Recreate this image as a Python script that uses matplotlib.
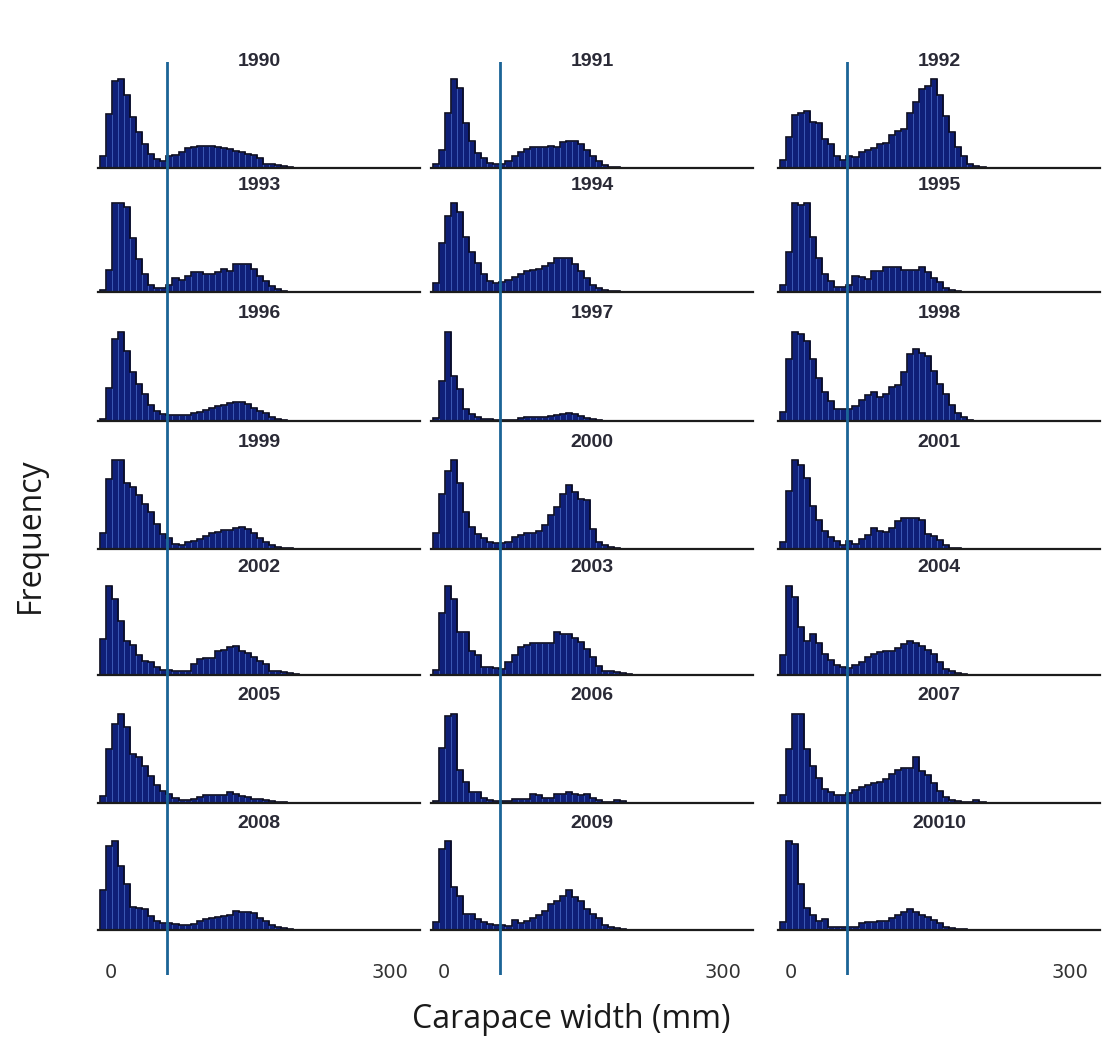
import numpy as np
import matplotlib
matplotlib.use("Agg")
import matplotlib.pyplot as plt

# carapace width histograms, heights (relative frequency)
years = ["1990", "1991", "1992", "1993", "1994", "1995", "1996",
         "1997", "1998", "1999", "2000", "2001", "2002", "2003",
         "2004", "2005", "2006", "2007", "2008", "2009", "20010"]

bin_start = -12     # mm, left edge of first bin
bin_width = 6.5     # mm
cut_off = 60        # mm, vertical reference line

f1990 = [13, 60, 97, 100, 82, 57, 40, 27, 16, 10, 8, 13, 15, 18, 22, 24, 25, 25, 25, 24,
         22, 21, 19, 18, 16, 15, 11, 5, 4, 3, 2, 1]
f1991 = [4, 20, 62, 100, 90, 50, 30, 17, 11, 6, 5, 5, 8, 13, 18, 21, 23, 23, 23, 25,
         24, 29, 30, 30, 27, 20, 13, 8, 3, 1.5, 1]
f1992 = [9, 35, 59, 62, 64, 52, 50, 33, 27, 14, 9, 13, 12, 18, 20, 22, 27, 28, 37, 41,
         44, 62, 74, 88, 92, 100, 82, 58, 40, 24, 13, 4, 2, 1.5]
f1993 = [2, 25, 100, 100, 95, 60, 37, 20, 8, 5, 5, 8, 16, 14, 18, 22, 22, 20, 20, 22,
         26, 24, 31, 31, 31, 26, 18, 12, 7, 3, 1, 0.5]
f1994 = [10, 55, 85, 100, 90, 62, 45, 33, 20, 12, 10, 11, 14, 17, 20, 23, 25, 26, 29, 33,
         38, 38, 38, 31, 23, 16, 8, 4, 2, 1.5, 1]
f1995 = [8, 45, 100, 97, 100, 62, 38, 20, 12, 6, 6, 8, 18, 17, 15, 23, 23, 28, 28, 28,
         25, 25, 25, 28, 22, 16, 11, 5, 2, 1]
f1996 = [2, 37, 92, 100, 78, 55, 42, 30, 18, 11, 8, 7, 7, 7, 7, 9, 10, 12, 15, 17,
         18, 20, 21, 21, 19, 15, 11, 9, 4, 2, 1]
f1997 = [3, 45, 100, 50, 36, 14, 8, 4, 2, 2, 1.5, 1.5, 1.5, 1.5, 3, 4, 4, 4, 4, 6,
         7, 8, 9, 8, 6, 3, 2, 1]
f1998 = [10, 70, 100, 98, 90, 70, 48, 32, 22, 14, 13, 14, 17, 24, 29, 32, 27, 30, 38, 40,
         55, 75, 81, 76, 73, 56, 41, 30, 18, 9, 4, 1.5]
f1999 = [18, 78, 100, 100, 74, 69, 61, 50, 41, 28, 17, 12, 6, 4, 8, 9, 11, 15, 18, 19,
         21, 21, 23, 25, 22, 18, 12, 8, 4, 2, 1, 1]
f2000 = [18, 62, 87, 100, 74, 42, 25, 17, 12, 8, 7, 7, 8, 13, 16, 18, 18, 20, 27, 38,
         47, 62, 72, 64, 56, 55, 22, 8, 4, 2, 1]
f2001 = [8, 65, 100, 94, 80, 48, 32, 20, 13, 9, 4, 9, 6, 11, 16, 23, 20, 19, 24, 31,
         35, 35, 35, 32, 17, 15, 10, 4, 1.5, 1]
f2002 = [40, 100, 85, 60, 38, 34, 22, 16, 15, 9, 6, 6, 5, 4, 5, 12, 18, 19, 19, 27,
         28, 31, 32, 27, 25, 20, 16, 12, 4, 4, 3, 2, 1]
f2003 = [6, 70, 100, 85, 48, 48, 27, 22, 9, 9, 8, 7, 15, 22, 31, 34, 36, 36, 36, 36,
         48, 46, 46, 41, 37, 29, 20, 10, 5, 4, 3, 2, 1]
f2004 = [22, 100, 87, 54, 38, 46, 36, 24, 17, 11, 9, 8, 11, 15, 20, 24, 26, 27, 27, 30,
         35, 38, 36, 33, 28, 24, 15, 7, 4, 2, 1]
f2005 = [8, 60, 88, 100, 85, 55, 52, 42, 30, 20, 14, 10, 6, 3, 3, 5, 7, 9, 9, 9,
         9, 12, 10, 8, 7, 5, 4, 3, 2, 1, 1]
f2006 = [2, 62, 97, 100, 37, 24, 12, 12, 6, 3, 2, 2, 2, 4, 4, 4, 10, 9, 6, 6,
         10, 10, 12, 10, 9, 10, 6, 3, 1, 1, 3, 2]
f2007 = [9, 60, 100, 100, 60, 42, 28, 16, 12, 9, 9, 11, 15, 18, 20, 22, 24, 27, 32, 37,
         39, 39, 51, 36, 31, 22, 14, 7, 3, 2, 1, 1, 3, 1]
f2008 = [45, 94, 100, 72, 52, 26, 25, 23, 16, 10, 8, 8, 7, 6, 6, 7, 10, 12, 14, 15,
         16, 17, 21, 20, 20, 19, 13, 10, 6, 3, 2, 1]
f2009 = [9, 91, 100, 48, 38, 18, 18, 12, 9, 7, 6, 6, 5, 11, 8, 10, 14, 17, 21, 29,
         33, 38, 45, 37, 32, 24, 18, 14, 6, 3, 2, 1]
f20010 = [9, 100, 96, 51, 25, 17, 10, 12, 3, 3, 3, 3, 3, 8, 9, 9, 10, 10, 13, 17,
          20, 23, 20, 17, 15, 11, 8, 3, 2, 1, 1]

freqs = [f1990, f1991, f1992, f1993, f1994, f1995, f1996, f1997, f1998, f1999,
         f2000, f2001, f2002, f2003, f2004, f2005, f2006, f2007, f2008, f2009, f20010]

W, H = 1102, 1042
fig = plt.figure(figsize=(W / 100, H / 100), dpi=100)

col_left = [98, 431, 778]
col_w = 322
row_base = [168, 292, 421, 549, 675, 803, 930]
ax_h = 100
xlim = (-14, 332)

bar_face = "#0f1f78"
bar_edge = "#3d5cb8"
line_col = "#1b6496"

for k, (yr, vals) in enumerate(zip(years, freqs)):
    r, c = divmod(k, 3)
    ax = fig.add_axes([col_left[c] / W, (H - row_base[r]) / H, col_w / W, ax_h / H])
    vals = np.array(vals, dtype=float)
    edges = bin_start + bin_width * np.arange(len(vals) + 1)
    ax.bar(edges[:-1], vals, width=bin_width, align="edge",
           color=bar_face, edgecolor=bar_edge, linewidth=0.6)
    ax.stairs(vals, edges, color="#0a0a1e", linewidth=1.2)
    ax.set_xlim(*xlim)
    ax.set_ylim(0, vals.max() * 1.12)
    for s in ["left", "top", "right"]:
        ax.spines[s].set_visible(False)
    ax.spines["bottom"].set_color("#1c1c1c")
    ax.spines["bottom"].set_linewidth(1.6)
    ax.set_yticks([])
    ax.text(0.5, 1.07, yr, transform=ax.transAxes, ha="center", va="center",
            fontsize=14, fontweight="bold", family="Liberation Sans", color="#2a2a36")
    if r == len(row_base) - 1:
        ax.set_xticks([0, 300])
        ax.set_xticklabels(["0", "300"], family="DejaVu Sans", fontsize=14, color="#333333")
        ax.tick_params(axis="x", length=0, pad=24)
    else:
        ax.set_xticks([])

# cut-off line running through every panel in each column
for c in range(3):
    ov = fig.add_axes([col_left[c] / W, (H - 975) / H, col_w / W, (975 - 62) / H])
    ov.set_xlim(*xlim)
    ov.set_ylim(0, 1)
    ov.axvline(cut_off, color=line_col, linewidth=2)
    ov.set_axis_off()
    ov.patch.set_alpha(0)

fig.text(30 / W, 1 - 535 / H, "Frequency", rotation=90, ha="center", va="center",
         fontsize=23, family="Open Sans", color="#1a1a1a")
fig.text(571 / W, 1 - 1020 / H, "Carapace width (mm)", ha="center", va="center",
         fontsize=23, family="Open Sans", color="#1a1a1a")

fig.savefig("out.png", dpi=100)
